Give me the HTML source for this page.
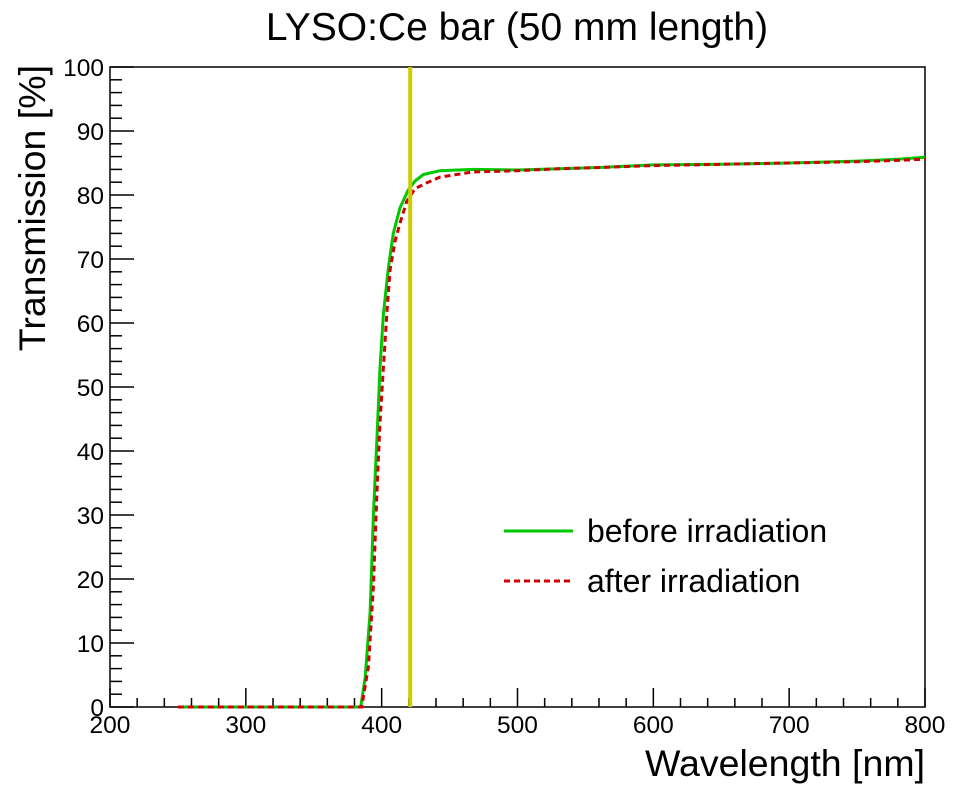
<!DOCTYPE html>
<html><head><meta charset="utf-8"><style>
html,body{margin:0;padding:0;background:#fff;}
svg{display:block;font-family:"Liberation Sans",Arial,sans-serif;}
</style></head><body>
<svg id="chart" width="960" height="790" viewBox="0 0 960 790">
<text x="517" y="40" font-size="39" text-anchor="middle">LYSO:Ce bar (50 mm length)</text>
<g id="axes"></g>
<g id="series"></g>
<g>
<line x1="504" y1="531" x2="573" y2="531" stroke="#00c800" stroke-width="3"/>
<text x="587" y="542" font-size="32">before irradiation</text>
<line x1="504" y1="581" x2="573" y2="581" stroke="#d00000" stroke-width="3" stroke-dasharray="6,4"/>
<text x="587" y="592" font-size="32">after irradiation</text>
</g>
<text x="925" y="776" font-size="37.5" text-anchor="end">Wavelength [nm]</text>
<text transform="translate(45,65) rotate(-90)" font-size="37.5" text-anchor="end">Transmission [%]</text>
</svg>
<script>
const xTicks = [200,300,400,500,600,700,800];
const yTicks = [0,10,20,30,40,50,60,70,80,90,100];
const markerWavelength = 421;
const beforeNm = [250,300,360,384.6,387.8,391.5,393.9,396.4,398.8,401.3,405,408.6,413.5,419.6,424.6,430.7,443,467,500,530,560,600,650,700,750,780,800];
const beforeT  = [0,0,0,0,4.5,14.8,30,41.5,53,61.4,68.8,74,78,80.8,82.2,83.2,83.8,84,83.9,84.1,84.3,84.7,84.8,85,85.3,85.6,85.9];
const afterNm = [250,300,360,385.3,390.2,393.9,396.4,398.8,401.3,403.8,406.2,409.9,413.5,418.4,424.6,433.2,443,467,500,530,560,600,650,700,750,780,800];
const afterT  = [0,0,0,0,6.3,18.8,33,44.4,53,61.4,68.3,72.8,75.6,79,81,81.9,82.8,83.6,83.8,84.1,84.3,84.6,84.8,85,85.2,85.4,85.6];

const X0=110,X1=925,Y0=707,Y1=67;
const xs = v => X0+(v-200)/600*(X1-X0);
const ys = v => Y0-(v/100)*(Y0-Y1);
const NS='http://www.w3.org/2000/svg';
function mk(tag,attrs,parent){const e=document.createElementNS(NS,tag);for(const k in attrs)e.setAttribute(k,attrs[k]);parent.appendChild(e);return e;}
const axes=document.getElementById('axes');
const frame=mk('rect',{x:X0,y:Y1,width:X1-X0,height:Y0-Y1,fill:'none',stroke:'#000','stroke-width':1.5},axes);


for(let v=200;v<=800;v+=20){
  const major=(v%100===0);
  const t=mk('line',{x1:xs(v),x2:xs(v),y1:Y0,y2:Y0-(major?19:9),stroke:'#000','stroke-width':1.5},axes);
  
  
}
xTicks.forEach(v=>{
  const t=mk('text',{x:xs(v),y:Y0+26,'font-size':24.5,'text-anchor':'middle'},axes);
  t.textContent=v;
  
  
});
for(let v=0;v<=100;v+=2){
  const major=(v%10===0);
  const t=mk('line',{x1:X0,x2:X0+(major?24:12),y1:ys(v),y2:ys(v),stroke:'#000','stroke-width':1.5},axes);
  
  
}
yTicks.forEach(v=>{
  const t=mk('text',{x:X0-6,y:ys(v)+9,'font-size':24.5,'text-anchor':'end'},axes);
  t.textContent=v;
  
  
});
const series=document.getElementById('series');
const pts=(a,b)=>a.map((v,i)=>xs(v).toFixed(1)+','+ys(b[i]).toFixed(1)).join(' ');
const green=mk('polyline',{points:pts(beforeNm,beforeT),fill:'none',stroke:'#00c800','stroke-width':3,'stroke-linejoin':'round'},series);


const red=mk('polyline',{points:pts(afterNm,afterT),fill:'none',stroke:'#d00000','stroke-width':3,'stroke-dasharray':'6,4'},series);


const mline=mk('line',{x1:xs(markerWavelength),x2:xs(markerWavelength),y1:Y1,y2:Y0,stroke:'#cccc00','stroke-width':4},series);


</script>
</body></html>
